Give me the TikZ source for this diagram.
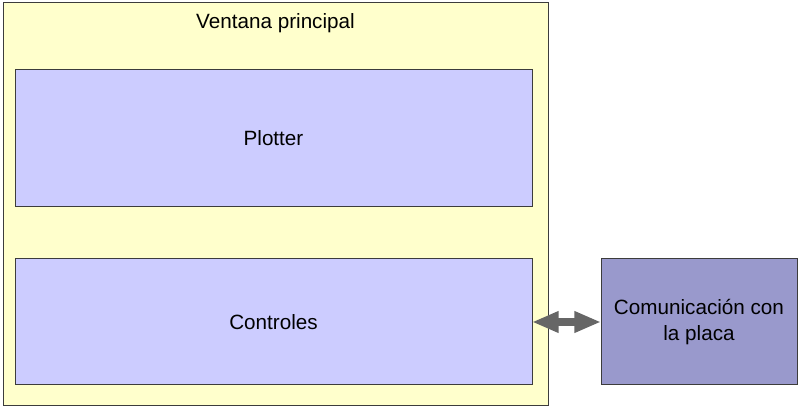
\documentclass[tikz,border=0pt]{standalone}
\usepackage{fontspec}
\setmainfont{Liberation Sans}
\usetikzlibrary{arrows.meta}

\definecolor{ventanafill}{RGB}{255,255,204}
\definecolor{bloquefill}{RGB}{204,204,255}
\definecolor{placafill}{RGB}{153,153,204}
\definecolor{bordegris}{RGB}{60,60,60}
\definecolor{flechagris}{RGB}{102,102,102}

\tikzset{every picture/.style={line width=0.75pt}}
\tikzset{
  texto/.style={font=\fontsize{15.5}{19.5}\selectfont},
  caja/.style={draw=bordegris, rectangle, outer sep=0pt, inner sep=2pt,
    align=center, texto},
  ventana/.style={caja, fill=ventanafill, minimum width=408.75pt, minimum height=302.25pt},
  bloque/.style={caja, fill=bloquefill, minimum width=387.75pt},
  placa/.style={caja, fill=placafill, minimum width=147pt, minimum height=94.5pt},
  flecha/.style={draw=flechagris, line width=6pt,
    {Triangle[length=20pt,width=15pt]}-{Triangle[length=20pt,width=15pt]}}
}

\begin{document}
\begin{tikzpicture}[x=0.75pt,y=0.75pt,yscale=-1,xscale=1]
	\useasboundingbox (0,0) rectangle (808,409);

	% Ventana
	\node[ventana] (ventana) at (275.5,204.5) {};
	% Text Node
	\node[texto] (titulo) at (275.5,23) {Ventana principal};

	% Bloques
	\node[bloque, minimum height=102.75pt] (plotter) at (273.5,138.5) {Plotter};
	\node[bloque, minimum height=94.5pt] (controles) at (273.5,322) {Controles};
	\node[placa] (placa) at (699,322) {Comunicación con\\la placa};

	% Flecha
	\draw[flecha] (controles.east) -- (placa.west);

\end{tikzpicture}
\end{document}
